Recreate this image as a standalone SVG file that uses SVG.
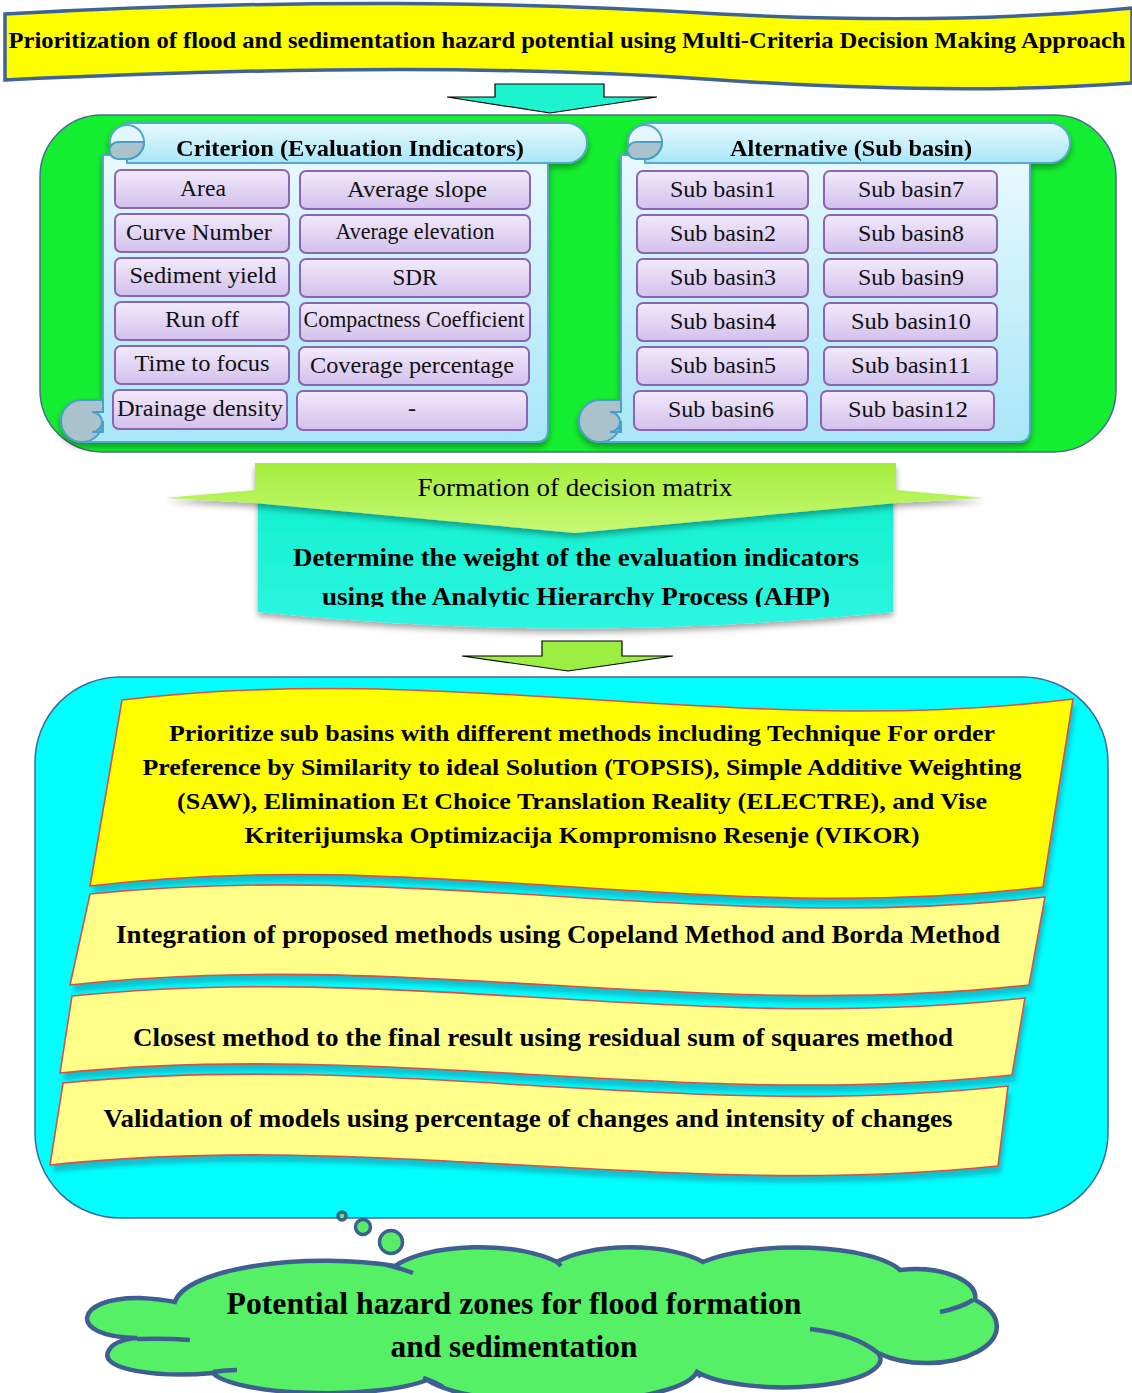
<svg xmlns="http://www.w3.org/2000/svg" width="1132" height="1393" viewBox="0 0 1132 1393" font-family="'Liberation Serif', 'Times New Roman', Times, serif">
<defs>
<style>
text{font-family:'Liberation Serif','Times New Roman',Times,serif}
.t{fill:#000}
.b{font-weight:bold}
.cellT{font-size:24px;text-anchor:middle;fill:#111}
.cell{fill:url(#gCell);stroke:#8A66B2;stroke-width:2}
.scroll{fill:url(#gScroll);stroke:#56A8CB;stroke-width:2}
.curl{fill:#A9C2CB;stroke:#4AA0C4;stroke-width:2}
.wave{stroke:#D8504A;stroke-width:1.6}
.wshadow{fill:#14ADBE;opacity:0.75}
.bub{fill:#55EE66;stroke:#3E5F90;stroke-width:3.5}
.cloud{fill:#55F066;stroke:#3E5F90;stroke-width:4.5}
.stub{fill:none;stroke:#3E5F90;stroke-width:4.5;stroke-linecap:butt}
</style>
<linearGradient id="gCell" x1="0" y1="0" x2="0" y2="1">
<stop offset="0" stop-color="#F2EAFB"/><stop offset="1" stop-color="#D3C0EC"/>
</linearGradient>
<linearGradient id="gScroll" x1="0" y1="0" x2="0" y2="1">
<stop offset="0" stop-color="#E8F9FE"/><stop offset="1" stop-color="#A8E6F8"/>
</linearGradient>
<linearGradient id="gRib" x1="0" y1="0" x2="0" y2="1">
<stop offset="0" stop-color="#A4EE3E"/><stop offset="1" stop-color="#C8F874"/>
</linearGradient>
<linearGradient id="gCy" x1="0" y1="0" x2="0" y2="1">
<stop offset="0" stop-color="#12F0CE"/><stop offset="1" stop-color="#2CF6E2"/>
</linearGradient>
<filter id="sh" x="-5%" y="-10%" width="110%" height="130%">
<feGaussianBlur in="SourceAlpha" stdDeviation="3"/><feOffset dx="0" dy="4"/>
<feComponentTransfer><feFuncA type="linear" slope="0.35"/></feComponentTransfer>
<feMerge><feMergeNode/><feMergeNode in="SourceGraphic"/></feMerge>
</filter>
<filter id="blur2"><feGaussianBlur stdDeviation="2"/></filter>
<clipPath id="clipAHP"><rect x="0" y="0" width="1132" height="607"/></clipPath>
</defs>

<!-- Title banner -->
<g id="title">
<path d="M5,14 C300,-2 520,2 720,14 C880,22 1010,20 1132,8 L1132,83 C1010,92 870,90 720,80 C520,66 300,66 5,80 Z" fill="#FFFF00" stroke="#3F6396" stroke-width="3.5"/>
<text class="t b" x="567" y="48" font-size="22.5" text-anchor="middle" textLength="1117" lengthAdjust="spacingAndGlyphs">Prioritization of flood and sedimentation hazard potential using Multi-Criteria Decision Making Approach</text>
</g>

<!-- Green container -->
<g id="inputs">
<rect x="40" y="115" width="1076" height="337" rx="62" fill="#14EE30" stroke="#4A6C8E" stroke-width="1.5"/>

<!-- Criterion scroll -->
<g id="criterion" filter="url(#sh)">
<path class="scroll" d="M103,155 V400 H82 A21,21 0 0 0 82,442 H536 Q548,442 548,430 V155 Z"/>
<path class="scroll" d="M127,123 H567 A20,20 0 0 1 567,163 H127 Z"/>
<circle class="scroll" cx="127" cy="142" r="17" style="fill:#E2F6FC"/>
<path class="curl" d="M144,142 H118 A8.5,8.5 0 0 0 118,159 H127 A17,17 0 0 0 144,142 Z"/>
<path class="curl" d="M82,400 A21,21 0 1 0 103,421 V432 H92 A10,10 0 0 0 92,412 H103 V400 Z"/>
<text class="t b" x="350" y="156" font-size="24" text-anchor="middle" textLength="348" lengthAdjust="spacingAndGlyphs">Criterion (Evaluation Indicators)</text>
</g>
<g id="c-area"><rect class="cell" x="115" y="170" width="174" height="38" rx="6"/><text class="cellT" x="203" y="196" textLength="46" lengthAdjust="spacingAndGlyphs">Area</text></g>
<g id="c-slope"><rect class="cell" x="300" y="171" width="230" height="38" rx="6"/><text class="cellT" x="417" y="197" textLength="140" lengthAdjust="spacingAndGlyphs">Average slope</text></g>
<g id="c-cn"><rect class="cell" x="115" y="214" width="174" height="38" rx="6"/><text class="cellT" x="199" y="240" textLength="146" lengthAdjust="spacingAndGlyphs">Curve Number</text></g>
<g id="c-elev"><rect class="cell" x="300" y="215" width="230" height="38" rx="6"/><text class="cellT" x="415" y="239" font-size="22" textLength="159" lengthAdjust="spacingAndGlyphs">Average elevation</text></g>
<g id="c-sed"><rect class="cell" x="115" y="258" width="174" height="38" rx="6"/><text class="cellT" x="203" y="283" textLength="147" lengthAdjust="spacingAndGlyphs">Sediment yield</text></g>
<g id="c-sdr"><rect class="cell" x="300" y="259" width="230" height="38" rx="6"/><text class="cellT" x="415" y="285" textLength="45" lengthAdjust="spacingAndGlyphs">SDR</text></g>
<g id="c-run"><rect class="cell" x="115" y="302" width="174" height="38" rx="6"/><text class="cellT" x="202" y="327" textLength="74" lengthAdjust="spacingAndGlyphs">Run off</text></g>
<g id="c-comp"><rect class="cell" x="300" y="303" width="230" height="38" rx="6"/><text class="cellT" x="414" y="327" font-size="22" textLength="221" lengthAdjust="spacingAndGlyphs">Compactness Coefficient</text></g>
<g id="c-time"><rect class="cell" x="115" y="346" width="174" height="38" rx="6"/><text class="cellT" x="202" y="371" textLength="135" lengthAdjust="spacingAndGlyphs">Time to focus</text></g>
<g id="c-cov"><rect class="cell" x="299" y="347" width="230" height="38" rx="6"/><text class="cellT" x="412" y="373" textLength="204" lengthAdjust="spacingAndGlyphs">Coverage percentage</text></g>
<g id="c-drain"><rect class="cell" x="113" y="390" width="174" height="39" rx="6"/><text class="cellT" x="200" y="416" textLength="166" lengthAdjust="spacingAndGlyphs">Drainage density</text></g>
<g id="c-dash"><rect class="cell" x="297" y="391" width="230" height="39" rx="6"/><text class="cellT" x="412" y="416">-</text></g>

<!-- Alternative scroll -->
<g id="alternative" filter="url(#sh)">
<path class="scroll" d="M621,155 V400 H600 A21,21 0 0 0 600,442 H1018 Q1030,442 1030,430 V155 Z"/>
<path class="scroll" d="M645,123 H1050 A20,20 0 0 1 1050,163 H645 Z"/>
<circle class="scroll" cx="645" cy="142" r="17" style="fill:#E2F6FC"/>
<path class="curl" d="M662,142 H636 A8.5,8.5 0 0 0 636,159 H645 A17,17 0 0 0 662,142 Z"/>
<path class="curl" d="M600,400 A21,21 0 1 0 621,421 V432 H610 A10,10 0 0 0 610,412 H621 V400 Z"/>
<text class="t b" x="851" y="156" font-size="24" text-anchor="middle" textLength="242" lengthAdjust="spacingAndGlyphs">Alternative (Sub basin)</text>
</g>
<g id="s1"><rect class="cell" x="637" y="171" width="171" height="38" rx="6"/><text class="cellT" x="723" y="197" textLength="106" lengthAdjust="spacingAndGlyphs">Sub basin1</text></g>
<g id="s7"><rect class="cell" x="824" y="171" width="173" height="38" rx="6"/><text class="cellT" x="911" y="197" textLength="106" lengthAdjust="spacingAndGlyphs">Sub basin7</text></g>
<g id="s2"><rect class="cell" x="637" y="215" width="171" height="38" rx="6"/><text class="cellT" x="723" y="241" textLength="106" lengthAdjust="spacingAndGlyphs">Sub basin2</text></g>
<g id="s8"><rect class="cell" x="824" y="215" width="173" height="38" rx="6"/><text class="cellT" x="911" y="241" textLength="106" lengthAdjust="spacingAndGlyphs">Sub basin8</text></g>
<g id="s3"><rect class="cell" x="637" y="259" width="171" height="38" rx="6"/><text class="cellT" x="723" y="285" textLength="106" lengthAdjust="spacingAndGlyphs">Sub basin3</text></g>
<g id="s9"><rect class="cell" x="824" y="259" width="173" height="38" rx="6"/><text class="cellT" x="911" y="285" textLength="106" lengthAdjust="spacingAndGlyphs">Sub basin9</text></g>
<g id="s4"><rect class="cell" x="637" y="303" width="171" height="38" rx="6"/><text class="cellT" x="723" y="329" textLength="106" lengthAdjust="spacingAndGlyphs">Sub basin4</text></g>
<g id="s10"><rect class="cell" x="824" y="303" width="173" height="38" rx="6"/><text class="cellT" x="911" y="329" textLength="120" lengthAdjust="spacingAndGlyphs">Sub basin10</text></g>
<g id="s5"><rect class="cell" x="637" y="347" width="171" height="38" rx="6"/><text class="cellT" x="723" y="373" textLength="106" lengthAdjust="spacingAndGlyphs">Sub basin5</text></g>
<g id="s11"><rect class="cell" x="824" y="347" width="173" height="38" rx="6"/><text class="cellT" x="911" y="373" textLength="120" lengthAdjust="spacingAndGlyphs">Sub basin11</text></g>
<g id="s6"><rect class="cell" x="634" y="391" width="173" height="39" rx="6"/><text class="cellT" x="721" y="417" textLength="106" lengthAdjust="spacingAndGlyphs">Sub basin6</text></g>
<g id="s12"><rect class="cell" x="821" y="391" width="173" height="39" rx="6"/><text class="cellT" x="908" y="417" textLength="120" lengthAdjust="spacingAndGlyphs">Sub basin12</text></g>
</g>

<!-- Decision matrix / AHP ribbon -->
<g id="ahp">
<path d="M258,492 H893 V612 Q575,645 258,612 Z" fill="url(#gCy)" filter="url(#sh)"/>
<g clip-path="url(#clipAHP)">
<text class="t b" x="576" y="566" font-size="26" text-anchor="middle" textLength="566" lengthAdjust="spacingAndGlyphs">Determine the weight of the evaluation indicators</text>
<text class="t b" x="576" y="605" font-size="26" text-anchor="middle" textLength="508" lengthAdjust="spacingAndGlyphs">using the Analytic Hierarchy Process (AHP)</text>
</g>
</g>
<g id="matrix">
<path d="M255,463 H896 V490 L985,498 L896,503 L575,533 L255,503 L165,498 L255,490 Z" fill="url(#gRib)" filter="url(#sh)"/>
<text class="t" x="575" y="496" font-size="26" text-anchor="middle" textLength="315" lengthAdjust="spacingAndGlyphs">Formation of decision matrix</text>
</g>

<!-- Methods container -->
<g id="methods">
<rect x="35" y="677" width="1073" height="541" rx="85" fill="#00FFFF" stroke="#3D6A9C" stroke-width="1.5"/>

<g id="m1">
<path class="wshadow" filter="url(#blur2)" transform="translate(3,7)" d="M122,700 C455,660 740,740 1073,699 L1043,887 C709,927 423,846 90,886 Z"/>
<path class="wave" fill="#FFFF00" d="M122,700 C455,660 740,740 1073,699 L1043,887 C709,927 423,846 90,886 Z"/>
<text class="t b" x="582" y="741" font-size="24" text-anchor="middle" textLength="826" lengthAdjust="spacingAndGlyphs">Prioritize sub basins with different methods including Technique For order</text>
<text class="t b" x="582" y="775" font-size="24" text-anchor="middle" textLength="879" lengthAdjust="spacingAndGlyphs">Preference by Similarity to ideal Solution (TOPSIS), Simple Additive Weighting</text>
<text class="t b" x="582" y="809" font-size="24" text-anchor="middle" textLength="810" lengthAdjust="spacingAndGlyphs">(SAW), Elimination Et Choice Translation Reality (ELECTRE), and Vise</text>
<text class="t b" x="582" y="843" font-size="24" text-anchor="middle" textLength="675" lengthAdjust="spacingAndGlyphs">Kriterijumska Optimizacija Kompromisno Resenje (VIKOR)</text>
</g>

<g id="m2">
<path class="wshadow" filter="url(#blur2)" transform="translate(3,7)" d="M90,894 C425,860 712,935 1045,897 L1029,985 C695,1022 405,948 70,985 Z"/>
<path class="wave" fill="#FFFF8A" d="M90,894 C425,860 712,935 1045,897 L1029,985 C695,1022 405,948 70,985 Z"/>
<text class="t b" x="558" y="943" font-size="25" text-anchor="middle" textLength="884" lengthAdjust="spacingAndGlyphs">Integration of proposed methods using Copeland Method and Borda Method</text>
</g>

<g id="m3">
<path class="wshadow" filter="url(#blur2)" transform="translate(3,7)" d="M72,996 C405,962 692,1035 1025,998 L1012,1075 C678,1110 393,1040 60,1073 Z"/>
<path class="wave" fill="#FFFF8A" d="M72,996 C405,962 692,1035 1025,998 L1012,1075 C678,1110 393,1040 60,1073 Z"/>
<text class="t b" x="543" y="1046" font-size="26" text-anchor="middle" textLength="820" lengthAdjust="spacingAndGlyphs">Closest method to the final result using residual sum of squares method</text>
</g>

<g id="m4">
<path class="wshadow" filter="url(#blur2)" transform="translate(3,7)" d="M63,1083 C394,1050 677,1122 1008,1086 L998,1166 C666,1200 381,1130 50,1165 Z"/>
<path class="wave" fill="#FFFF8A" d="M63,1083 C394,1050 677,1122 1008,1086 L998,1166 C666,1200 381,1130 50,1165 Z"/>
<text class="t b" x="528" y="1127" font-size="26" text-anchor="middle" textLength="849" lengthAdjust="spacingAndGlyphs">Validation of models using percentage of changes and intensity of changes</text>
</g>
</g>

<!-- Connectors -->
<g id="connectors">
<path id="arrow1" d="M495,84 H604 V97 H657 L550,113 L447,97 H495 Z" fill="#1EF3D0" stroke="#000" stroke-width="1.2"/>
<path id="arrow2" d="M542,641 H622 V656 H673 L568,671 L462,656 H542 Z" fill="#9DEE42" stroke="#000" stroke-width="1.2"/>
<g id="bubbles">
<circle class="bub" cx="342" cy="1216" r="4"/>
<circle class="bub" cx="363" cy="1227" r="7.5"/>
<circle class="bub" cx="391" cy="1242" r="11.5"/>
</g>
</g>

<!-- Result cloud -->
<g id="result">
<path class="cloud" d="M175,1302 A150,45 0 0 1 395,1266 A95,35 0 0 1 557,1262 A85,30 0 0 1 703,1262 A110,32 0 0 1 900,1270 A60,28 0 0 1 975,1300 A50,26 0 0 1 878,1353 A97,28 0 0 1 697,1372 A140,35 0 0 1 427,1380 A115,25 0 0 1 213,1373 C160,1378 100,1370 108,1352 C112,1342 125,1339 137,1338 C66,1337 74,1297 140,1298 Q160,1299 175,1302 Z"/>
<path class="stub" d="M137,1339 Q165,1338 190,1340"/>
<path class="stub" d="M213,1372 Q226,1370 237,1370"/>
<path class="stub" d="M423,1378 Q433,1381 443,1387"/>
<path class="stub" d="M387,1265 Q400,1268 413,1273"/>
<path class="stub" d="M557,1262 L561,1266"/>
<path class="stub" d="M973,1300 Q960,1308 940,1312"/>
<path class="stub" d="M810,1329 Q855,1334 878,1353"/>
<path class="stub" d="M697,1372 L701,1377"/>
<text class="t b" x="514" y="1314" font-size="31" text-anchor="middle" textLength="575" lengthAdjust="spacingAndGlyphs">Potential hazard zones for flood formation</text>
<text class="t b" x="514" y="1357" font-size="31" text-anchor="middle" textLength="247" lengthAdjust="spacingAndGlyphs">and sedimentation</text>
</g>
</svg>
